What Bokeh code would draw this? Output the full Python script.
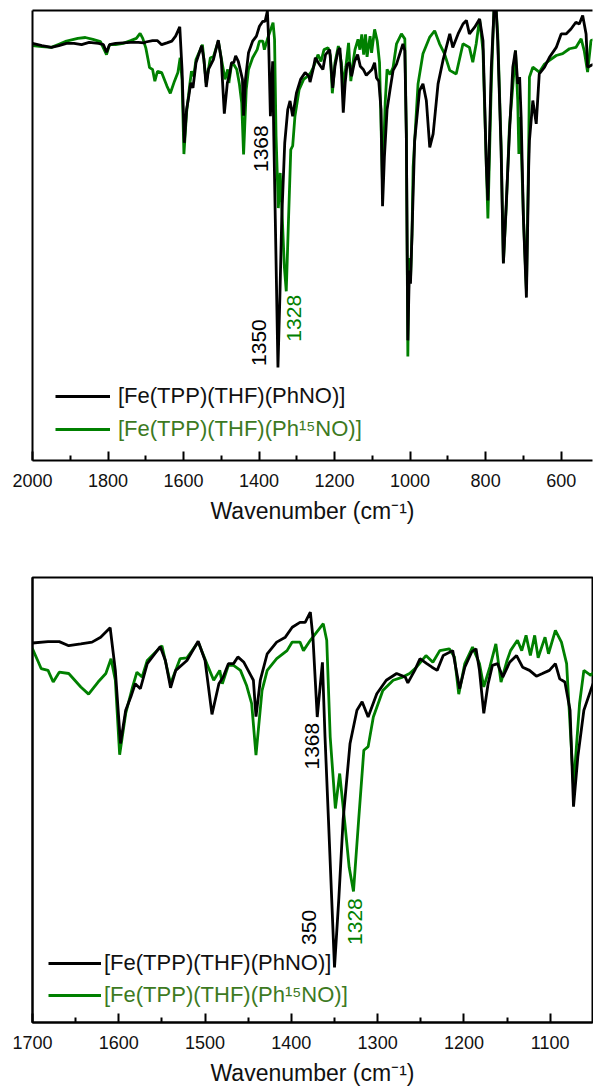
import math
from bokeh.plotting import figure
from bokeh.models import (ColumnDataSource, Range1d, FixedTicker, LinearAxis, Legend, LegendItem)
from bokeh.layouts import column
from bokeh.core.properties import value
from bokeh.embed import file_html
from bokeh.resources import INLINE

# ---------------- data (wavenumber in cm-1, transmittance in arbitrary units) -------------
black_wn = [2000, 1975, 1950, 1930, 1910, 1890, 1870, 1850, 1825, 1812, 1804, 1796, 1780, 1760, 1740, 1720, 1705,
            1700, 1682, 1669, 1658, 1644, 1631, 1621, 1610, 1604, 1598, 1592, 1586, 1581, 1575, 1567, 1552, 1546,
            1540, 1534, 1521, 1508, 1500, 1492, 1484, 1479, 1473, 1467, 1462, 1455, 1447, 1444, 1441, 1436, 1428,
            1417, 1407, 1399, 1390, 1384, 1378, 1375, 1370, 1364, 1361, 1357, 1350, 1345, 1340, 1332, 1324, 1318,
            1311, 1301, 1290, 1278, 1268, 1265, 1257, 1251, 1243, 1237, 1231, 1224, 1213, 1205, 1199, 1191, 1186,
            1182, 1177, 1172, 1167, 1161, 1155, 1147, 1139, 1132, 1124, 1116, 1109, 1101, 1094, 1089, 1083, 1077,
            1073, 1068, 1061, 1053,
            1045, 1036, 1019, 1014, 1010, 1006, 1002, 999, 995, 988, 975, 966, 957, 948, 939, 926, 913, 895, 887,
            873, 860, 851, 843, 829, 816, 807, 798, 794, 785, 779, 776, 772, 768, 759, 753, 745, 737, 728, 721, 715,
            710, 706, 700, 692, 686, 684, 675, 666, 658, 644, 631, 613, 600, 587, 574, 561, 552, 543, 534, 530, 521,
            515]
black_t = [92.7, 92.2, 91.8, 92.2, 92.7, 92.7, 92.4, 92.9, 92.7, 92.4, 90.7, 92.4, 92.7, 92.8, 92.9, 92.9, 92.8,
           93.0, 93.3, 93.3, 92.4, 92.8, 93.2, 94.3, 96.4, 86.9, 70.6, 78.0, 81.0, 83.9, 82.8, 88.4, 92.2, 89.1,
           83.0, 86.9, 89.1, 93.4, 89.1, 77.1, 83.9, 85.4, 88.4, 88.4, 89.9, 88.7, 85.8, 84.7, 76.6, 84.7, 90.6,
           93.2, 94.3, 96.5, 97.6, 97.6, 99.9, 94.3, 76.5, 88.7, 72.1, 53.6, 20.7, 36.0, 53.6, 70.6, 78.0, 79.9,
           76.5, 81.7, 84.7, 86.2, 85.4, 84.1, 86.9, 89.5, 88.4, 87.6, 86.9, 90.2, 91.3, 82.8, 87.6, 91.0, 91.7,
           86.9, 77.3, 83.9, 88.0, 88.4, 85.4, 88.7, 90.2, 87.6, 86.9, 85.6, 86.2, 86.9, 88.4, 85.0, 84.3, 78.0,
           56.5, 67.6, 78.0, 82.5,
           86.7, 88.1, 92.6, 91.1, 72.6, 26.7, 42.2, 39.3, 50.3, 71.1, 82.2, 83.7, 80.0, 69.6, 72.6, 83.7, 88.9, 94.8, 91.8,
           94.8, 97.0, 97.8, 94.8, 96.3, 98.1, 93.3, 65.2, 57.8, 87.4, 97.8, 104.0, 100.0, 93.3, 68.9, 43.8, 57.8, 72.6, 87.4, 91.1, 83.7,
           85.2, 76.3, 54.1, 36.2, 65.2, 71.1, 80.0, 74.8, 85.9, 87.4, 89.6, 91.8, 94.8, 94.8, 95.9, 97.4, 97.0, 98.9, 94.8, 87.4, 87.8,
           88.0]

green_wn = [2000, 1975, 1950, 1930, 1910, 1880, 1860, 1840, 1820, 1804, 1796, 1780, 1760, 1740, 1725, 1715, 1708,
            1700, 1694, 1690, 1682, 1676, 1669, 1658, 1644, 1635, 1624, 1615, 1609, 1604, 1599, 1592, 1584, 1579,
            1573, 1567, 1550, 1540, 1529, 1521, 1508, 1498, 1490, 1483, 1480, 1473, 1467, 1459, 1452, 1446, 1441,
            1434, 1428, 1417, 1405, 1399, 1390, 1386, 1378, 1363, 1359, 1355, 1349, 1344, 1338, 1333, 1328, 1322,
            1316, 1311, 1305, 1294, 1282, 1271, 1263, 1255, 1244, 1236, 1228, 1217, 1211, 1206, 1199, 1190, 1182,
            1177, 1170, 1163, 1157, 1150, 1146, 1138, 1133, 1128, 1123, 1118, 1114, 1106, 1102, 1094, 1087, 1081,
            1073, 1066, 1061, 1053,
            1045, 1036, 1023, 1014, 1010, 1006, 1003, 999, 995, 992, 979, 966, 948, 935, 922, 909, 895, 878, 860,
            843, 834, 825, 816, 807, 798, 794, 785, 779, 776, 772, 768, 759, 753, 745, 737, 724, 721, 715, 712, 708,
            700, 692, 686, 684, 675, 658, 644, 631, 613, 596, 578, 561, 547, 539, 530, 521, 515]
green_t = [92.2, 92.0, 91.8, 92.5, 93.2, 93.8, 94.0, 93.6, 93.1, 90.2, 92.4, 92.4, 92.7, 93.3, 93.8, 94.9, 93.8,
           91.7, 89.1, 87.3, 86.9, 84.3, 86.5, 86.2, 83.2, 81.6, 84.3, 86.2, 89.5, 84.7, 68.1, 77.3, 83.2, 86.5,
           85.4, 89.1, 92.4, 83.9, 89.5, 89.7, 93.2, 88.4, 84.7, 86.9, 83.9, 88.0, 88.0, 86.9, 83.6, 79.5, 68.0,
           82.4, 86.9, 89.5, 91.3, 93.2, 93.2, 91.3, 93.6, 97.3, 93.6, 72.1, 56.1, 63.9, 52.8, 43.0, 37.6, 53.6,
           69.1, 69.9, 76.5, 82.4, 84.7, 85.4, 86.2, 87.6, 90.2, 88.7, 91.3, 91.7, 89.9, 81.6, 88.4, 92.1, 88.4,
           83.2, 87.6, 92.8, 84.3, 89.1, 91.3, 93.6, 91.3, 94.7, 90.2, 94.7, 89.7, 94.3, 90.6, 95.8, 93.2, 88.4,
           61.0, 79.5, 86.9, 85.8,
           87.4, 92.6, 94.8, 93.7, 72.6, 23.1, 45.0, 40.0, 50.3, 65.2, 83.7, 90.4, 94.1, 95.5, 92.6, 90.4, 86.7, 85.9, 92.6,
           91.8, 88.5, 92.6, 98.1, 91.1, 65.2, 53.8, 83.7, 97.8, 104.0, 100.0, 94.8, 70.0, 44.0, 57.0, 74.1, 87.4, 91.1, 80.0, 68.1, 76.3,
           54.1, 37.8, 68.9, 85.2, 87.4, 86.3, 88.1, 88.9, 90.0, 90.4, 91.5, 91.8, 93.7, 91.1, 86.3, 93.3, 93.5]

series_labels = ["[Fe(TPP)(THF)(PhNO)]", "[Fe(TPP)(THF)(Ph\u00b9\u2075NO)]"]
axis_title = "Wavenumber (cm\u207b\u00b9)"

top_ticks = [2000, 1800, 1600, 1400, 1200, 1000, 800, 600]
top_minor = [1900, 1700, 1500, 1300, 1100, 900, 700]
bottom_ticks = [1700, 1600, 1500, 1400, 1300, 1200, 1100]
bottom_minor = [1650, 1550, 1450, 1350, 1250, 1150]

# peak annotations
top_ann_text = ["1368", "1350", "1328"]
top_ann_x = [1395, 1400, 1308]
top_ann_y = [69.3, 26.2, 31.6]
bot_ann_text = ["1368", "350", "1328"]
bot_ann_x = [1376, 1379, 1326]
bot_ann_y = [70.0, 29.6, 30.9]
ann_color = ["#000000", "#000000", "#008000"]

BLACK = "#000000"
GREEN = "#008000"
GREEN_TXT = "#3d7a1f"
FONT = "Liberation Sans"

src_b = ColumnDataSource(dict(x=black_wn, y=black_t))
src_g = ColumnDataSource(dict(x=green_wn, y=green_t))


def style_axis(ax, ticks, minor):
    ax.ticker = FixedTicker(ticks=ticks, minor_ticks=minor)
    ax.axis_line_width = 2
    ax.axis_line_color = "#000000"
    ax.major_tick_line_width = 2
    ax.minor_tick_line_width = 2
    ax.major_tick_line_color = "#000000"
    ax.minor_tick_line_color = "#000000"
    ax.major_tick_in = 9
    ax.major_tick_out = 0
    ax.minor_tick_in = 5
    ax.minor_tick_out = 0
    ax.major_label_text_font = FONT
    ax.major_label_text_font_size = "18px"
    ax.major_label_text_color = "#111111"
    ax.major_label_standoff = 13
    ax.axis_label = axis_title
    ax.axis_label_text_font = FONT
    ax.axis_label_text_font_size = "23px"
    ax.axis_label_text_font_style = "normal"
    ax.axis_label_text_color = "#111111"
    ax.axis_label_standoff = 8


def blank_axis(ax):
    ax.ticker = FixedTicker(ticks=[])
    ax.axis_line_width = 2
    ax.axis_line_color = "#000000"
    ax.major_tick_line_color = None
    ax.minor_tick_line_color = None
    ax.major_label_text_font_size = "0px"
    ax.axis_label = None


def make_panel(xr, yr, height, border, ticks, minor, ann, leg, outline):
    p = figure(width=593, height=height, x_range=Range1d(*xr), y_range=Range1d(*yr),
               output_backend="svg", toolbar_location=None,
               x_axis_location=None, y_axis_location=None,
               min_border_left=border[0], min_border_right=border[1],
               min_border_top=border[2], min_border_bottom=border[3])
    p.grid.visible = False
    p.background_fill_color = "white"
    p.border_fill_color = "white"

    xb = LinearAxis()
    style_axis(xb, ticks, minor)
    p.add_layout(xb, "below")
    yl = LinearAxis()
    blank_axis(yl)
    p.add_layout(yl, "left")
    if outline:
        p.outline_line_color = "#000000"
        p.outline_line_width = 2
    else:
        p.outline_line_color = None
        top = LinearAxis()
        blank_axis(top)
        p.add_layout(top, "above")

    rg = p.line("x", "y", source=src_g, line_color=GREEN, line_width=2.8)
    rb = p.line("x", "y", source=src_b, line_color=BLACK, line_width=2.8)

    texts, xs, ys = ann
    p.text(x=xs, y=ys, text=texts, angle=math.pi / 2, text_align="center", text_baseline="middle",
           text_font=value(FONT), text_font_size="21px", text_color=ann_color)

    lx, ly_black, ly_green, gw, standoff = leg
    for lab, r, y0, col in [(series_labels[0], rb, ly_black, "#111111"),
                            (series_labels[1], rg, ly_green, GREEN_TXT)]:
        lg = Legend(items=[LegendItem(label=lab, renderers=[r])], location=(lx, y0),
                    border_line_color=None, background_fill_alpha=0, padding=0, margin=0,
                    spacing=0, glyph_width=gw, glyph_height=20, label_height=20,
                    label_standoff=standoff, label_text_font=FONT, label_text_font_size="22px",
                    label_text_color=col)
        p.add_layout(lg)
    return p


p1 = make_panel((2000, 517), (0, 100), 544, (32, 0, 10, 84), top_ticks, top_minor,
                (top_ann_text, top_ann_x, top_ann_y), (23, 51, 18, 55, 8), outline=False)
p2 = make_panel((1700, 1051), (8.4, 107.6), 544, (31, 1, 33, 65), bottom_ticks, bottom_minor,
                (bot_ann_text, bot_ann_x, bot_ann_y), (16, 46, 14, 53, 3), outline=True)

layout = column(p1, p2)
open("out.html", "w").write(file_html(layout, INLINE))
